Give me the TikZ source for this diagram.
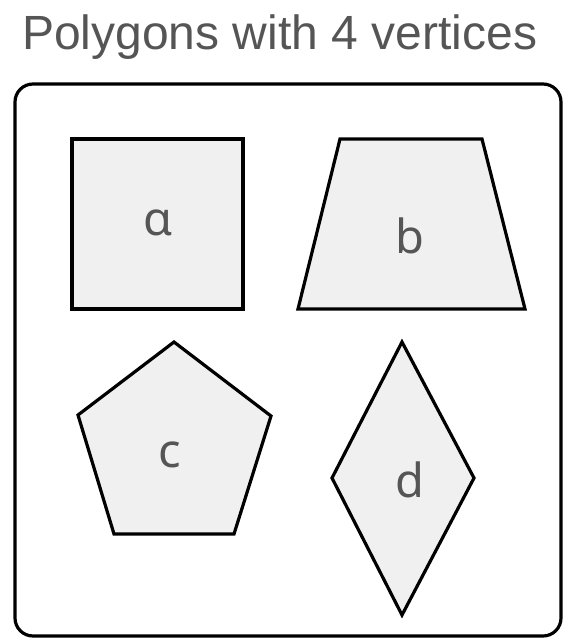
\documentclass[tikz,border=0pt]{standalone}
\usepackage{fontspec}
\setmainfont{Liberation Sans}
\newfontfamily\labelfont{Noto Sans}
\definecolor{txt}{HTML}{555555}
\definecolor{shapefill}{HTML}{F0F0F0}
\begin{document}
\begin{tikzpicture}[x=1pt,y=-1pt,
  poly/.style={draw=black, fill=shapefill, line width=3.2pt},
  lbl/.style={anchor=base, inner sep=0pt, text=txt, font=\labelfont\fontsize{47}{47}\selectfont},
  frame/.style={draw=black, line width=3.2pt, rounded corners=18pt}]
\useasboundingbox (0,0) rectangle (586,642);
\fill[white] (0,0) rectangle (586,642);
\node[anchor=base west, inner sep=0pt, text=txt, font=\fontsize{48}{48}\selectfont] (title) at (22,49) {Polygons with 4 vertices};
\draw[frame] (15,84) rectangle (561,636);
% a: square
\draw[poly] (72,139) rectangle (243,309);
\node[lbl] (la) at (157.5,235) {ɑ};
% b: trapezoid
\draw[poly] (340,139) -- (482,139) -- (525,309) -- (298,309) -- cycle;
\node[lbl] (lb) at (410,253) {b};
% c: pentagon
\draw[poly] (174,342) -- (271,416) -- (234,534) -- (114,534) -- (78,415) -- cycle;
\node[lbl] (lc) at (170,467) {c};
% d: rhombus
\draw[poly] (402,342) -- (474,478) -- (402,615) -- (332,478) -- cycle;
\node[lbl] (ld) at (410,497) {d};
\end{tikzpicture}
\end{document}
